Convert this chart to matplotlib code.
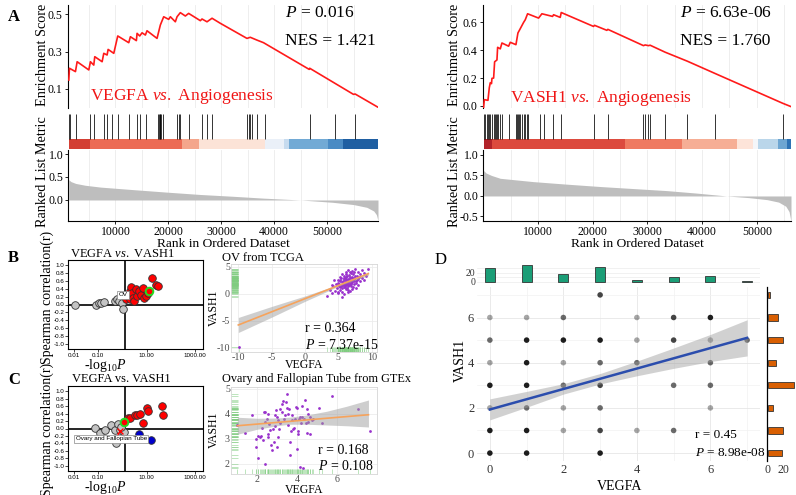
import numpy as np
import matplotlib.pyplot as plt

plt.rcParams['font.family'] = ['Liberation Serif', 'DejaVu Serif']
plt.rcParams['mathtext.fontset'] = 'custom'
plt.rcParams['mathtext.rm'] = 'Liberation Serif'
plt.rcParams['mathtext.it'] = 'Liberation Serif:italic'
plt.rcParams['axes.linewidth'] = 0.8
plt.rcParams['axes.unicode_minus'] = False
SANS = 'Liberation Sans'

# ---------------- A: GSEA VEGFA vs. Angiogenesis ----------------
es1_rank = [1195, 1320, 2450, 2770, 4970, 5280, 5910, 6100, 7490, 7800, 8430, 8620,
            9690, 10440, 12520, 12830, 13960, 14090, 14590, 15030, 15660, 15970, 17860,
            18490, 19120, 20060, 20380, 21320, 21640, 22260, 23210, 23830, 26040, 26360,
            27300, 28250, 29810, 34850, 35470, 36730, 37980, 46600, 46700, 54970, 55280, 59600]
es1_val = [0.148, 0.211, 0.193, 0.246, 0.202, 0.246, 0.228, 0.273, 0.246, 0.291, 0.282, 0.312,
           0.291, 0.384, 0.348, 0.380, 0.359, 0.398, 0.384, 0.401, 0.389, 0.412, 0.371,
           0.443, 0.487, 0.473, 0.487, 0.460, 0.487, 0.509, 0.491, 0.505, 0.466, 0.475,
           0.460, 0.479, 0.452, 0.371, 0.377, 0.362, 0.348, 0.205, 0.211, 0.071, 0.073, 0.002]
hits1 = [1195, 1384, 2642, 5157, 6038, 7799, 8428, 9371, 10440, 12516, 14088, 14717, 15849,
         17987, 18176, 18365, 18491, 18679, 18930, 21635, 21950, 22264, 23836, 26352, 27296,
         28239, 34843, 35157, 35472, 35786, 36730, 38302, 46667, 51384, 55283]
bar1_edges = [1190, 5283, 22585, 25717, 38302, 41755, 42698, 50245, 53075, 59600]
bar1_cols = ['#d33f34', '#ec6b54', '#f4a68c', '#fce3d7', '#eaf0f8', '#c6dbef',
             '#72aad5', '#4a8bc4', '#1f5fa2']
rk1_x = [1190, 1600, 2500, 4300, 7200, 12800, 19800, 26000, 32300, 38000, 45000, 51000,
         55000, 57500, 58800, 59300, 59600]
rk1_y = [0.44, 0.40, 0.36, 0.32, 0.28, 0.23, 0.17, 0.12, 0.08, 0.04, 0.0, -0.05,
         -0.10, -0.16, -0.24, -0.32, -0.45]

# ---------------- A: GSEA VASH1 vs. Angiogenesis ----------------
es2_rank = [55, 183, 852, 1096, 1279, 1500, 1583, 1887, 2070, 2496, 2618, 3105, 3409, 4627,
            4931, 5967, 6332, 6758, 7367, 7671, 8097, 10106, 10715, 12663, 12846, 14064,
            14247, 20152, 20335, 22588, 22770, 29285, 29589, 30198, 30502, 33242, 37321,
            42374, 54734, 56256]
es2_val = [-0.012, 0.045, 0.040, 0.131, 0.167, 0.160, 0.198, 0.200, 0.317, 0.330, 0.421,
           0.410, 0.452, 0.429, 0.457, 0.440, 0.524, 0.555, 0.600, 0.619, 0.662, 0.631,
           0.662, 0.643, 0.655, 0.636, 0.671, 0.571, 0.579, 0.543, 0.550, 0.433, 0.438,
           0.433, 0.436, 0.386, 0.321, 0.233, 0.019, -0.005]
hits2 = [183, 365, 670, 852, 1096, 1279, 1583, 1887, 2070, 2314, 2496, 2679, 3105, 3409,
         4627, 5967, 6149, 6332, 6454, 6758, 7062, 7367, 7671, 7976, 8158, 10411, 11020,
         12663, 14247, 20152, 22770, 29285, 29589, 30198, 30502, 33242, 37321, 42374, 54734]
bar2_edges = [55, 1589, 25936, 36292, 46338, 49370, 50283, 53936, 55470, 56256]
bar2_cols = ['#b2232a', '#dc4a3e', '#ef7a61', '#f6ae95', '#fde4d9', '#f4f6f9',
             '#bad6ea', '#6ea6d2', '#2e73b5']
rk2_x = [55, 500, 1500, 3100, 9100, 15000, 21400, 27500, 33600, 39000, 44500, 48500,
         51900, 54000, 55300, 55900, 56256]
rk2_y = [0.62, 0.56, 0.50, 0.43, 0.35, 0.29, 0.23, 0.18, 0.13, 0.07, 0.0, -0.04,
         -0.09, -0.15, -0.25, -0.38, -0.62]
rank_ticks = [10000, 20000, 30000, 40000, 50000]

# ---------------- B / C left: -log10 P vs Spearman r ----------------
corr_ticks = [-1.0, -0.8, -0.6, -0.4, -0.2, 0.0, 0.2, 0.4, 0.6, 0.8, 1.0]
logp_ticks = [0.01, 0.1, 10, 1000]
logp_labels = ['0.01', '0.10', '10.00', '1000.00']

b_gray_p = [0.011, 0.085, 0.105, 0.138, 0.174, 0.48, 0.59, 0.72, 1.0, 1.05]
b_gray_r = [0.0, -0.02, 0.03, 0.04, 0.06, 0.08, 0.13, 0.08, 0.04, -0.11]
b_red_p = [1.45, 1.70, 2.0, 2.14, 2.29, 2.51, 2.88, 3.16, 3.72, 3.89, 5.01, 5.89, 6.92,
           8.13, 9.55, 11.2, 17.0, 25.7, 29.5]
b_red_r = [0.14, 0.21, 0.13, 0.35, 0.44, 0.29, 0.17, 0.08, 0.40, 0.21, 0.34, 0.25, 0.42,
           0.17, 0.21, 0.29, 0.68, 0.49, 0.47]
b_sel_p, b_sel_r = 12.9, 0.35

c_gray_p = [0.072, 0.117, 0.186, 0.355, 0.48, 0.66, 0.78, 0.56, 1.12, 0.89]
c_gray_r = [0.02, -0.11, -0.05, 0.10, -0.04, 0.13, -0.03, -0.38, -0.10, 0.05]
c_red_p = [1.70, 2.09, 3.47, 3.89, 5.37, 7.41, 10.0, 11.2, 43.7, 45.7]
c_red_r = [0.27, 0.29, 0.35, 0.37, 0.39, 0.16, 0.55, 0.47, 0.61, 0.37]
c_blue_p = [5.01, 15.1]
c_blue_r = [-0.15, -0.31]
c_sel_p, c_sel_r = 1.15, 0.17
c_x_p, c_x_r = 0.78, -0.08

# ---------------- B right: OV from TCGA ----------------
tcga_vegfa = [6.0, 6.3, 5.7, 6.8, 5.2, 7.1, 6.5, 5.9, 6.2, 7.4, 4.8, 5.5, 6.9, 7.8, 6.1, 5.3,
              6.6, 7.2, 4.5, 8.2, 5.8, 6.4, 7.0, 5.1, 6.7, 7.6, 5.6, 6.2, 8.0, 4.9, 6.0, 6.9,
              5.4, 7.3, 6.5, 5.0, 7.9, 6.3, 5.7, 7.5, 4.2, 6.8, 5.9, 8.5, 6.1, 7.1, 5.2, 6.6,
              7.7, 4.6, 6.4, 5.5, 7.2, 6.0, 8.8, 5.8, 6.9, 3.8, 7.4, 6.2, 5.3, 6.7, 7.9, 5.0,
              6.5, 7.0, 5.6, 8.3, 6.1, 4.4, 6.3, 7.6, 5.9, 6.8, 5.4, 7.3, 6.0, 8.6, 4.9, 6.6,
              7.1, 5.7, 6.4, 7.8, 5.2, 6.9, 6.2, 9.2, 5.5, 7.4, 6.7, 4.1, 6.0, 7.0, 5.8, 8.1,
              6.5, 5.1, 7.2, 6.3, 3.3, 9.5, 4.0, 8.9, 5.6, 7.5, -9.97]
tcga_vash1 = [2.0, 2.4, 1.6, 2.9, 1.2, 2.2, 1.5, 2.7, 3.1, 3.0, 1.0, 2.2, 1.8, 3.4, 0.9, 2.6,
              3.5, 1.3, 0.6, 3.6, 3.3, 2.1, 2.6, 1.8, 0.6, 2.4, 0.4, 4.0, 2.8, 2.1, 1.3, 3.8,
              2.9, 1.9, 2.8, 0.2, 4.1, 1.1, 2.4, 3.3, 1.4, 2.3, 1.9, 3.0, 3.6, 0.9, 3.1, 1.7,
              2.0, 1.9, 4.4, 1.0, 3.6, 2.5, 3.9, 0.0, 2.0, 0.8, 2.7, 1.6, 0.7, 3.1, 1.6, 2.5,
              0.3, 4.3, 3.6, 2.3, 2.2, 2.6, 3.3, 1.1, 1.2, 4.0, 1.5, 2.4, 3.0, 4.5, 0.4, 2.5,
              3.1, 2.0, 0.8, 2.6, 2.3, 1.4, 2.8, 3.4, 1.7, 4.0, 1.9, 0.2, 1.7, 2.9, 2.9, 3.2,
              2.2, 1.4, 2.5, 1.8, -0.4, 4.7, 1.6, 2.5, -0.6, 4.7, -9.97]
tcga_fit_x = [-10.0, 9.5]
tcga_fit_y = [-5.8, 3.75]
tcga_ci_x = [-10.0, -5.0, 0.0, 5.0, 6.0, 9.5]
tcga_ci_lo = [-7.2, -4.35, -1.4, 1.38, 1.86, 3.4]
tcga_ci_hi = [-4.4, -2.35, -0.4, 1.72, 2.12, 4.1]

# ---------------- C right: Ovary and Fallopian Tube from GTEx ----------------
gtex_vegfa = [0.96, 1.38, 1.72, 1.92, 1.94, 2.05, 2.19, 2.25, 2.35, 2.39, 2.39, 2.47, 2.52,
              2.56, 2.59, 2.64, 2.69, 2.76, 2.81, 2.89, 2.89, 2.93, 2.98, 3.03, 3.06, 3.09,
              3.14, 3.14, 3.23, 3.26, 3.31, 3.36, 3.40, 3.43, 3.48, 3.48, 3.53, 3.56, 3.60,
              3.65, 3.70, 3.73, 3.76, 3.81, 3.90, 3.93, 3.98, 3.98, 4.03, 4.07, 4.10, 4.15,
              4.20, 4.24, 4.27, 4.32, 4.37, 4.40, 4.44, 4.49, 4.49, 4.54, 4.57, 4.65, 4.65,
              4.74, 4.82, 5.11, 5.24, 5.75, 7.09, 7.68, 2.39, 2.56, 2.98, 2.14, 2.05, 4.15,
              3.87, 2.30, 2.86, 3.65]
gtex_vash1 = [3.54, 3.25, 3.96, 2.67, 3.00, 3.13, 3.13, 3.44, 4.09, 3.69, 4.09, 3.81, 4.00,
              3.19, 3.59, 3.34, 2.75, 2.57, 3.41, 3.94, 3.50, 4.16, 3.88, 3.07, 3.75, 3.38,
              4.19, 3.63, 4.38, 4.06, 4.50, 3.81, 3.94, 4.46, 4.25, 4.81, 3.54, 4.00, 4.19,
              2.88, 3.31, 3.96, 3.75, 3.38, 3.81, 4.28, 4.25, 2.59, 3.19, 3.31, 3.78, 3.88,
              3.63, 4.31, 3.88, 1.82, 3.81, 4.56, 3.63, 3.25, 4.19, 3.66, 4.00, 3.88, 3.19,
              3.75, 3.81, 4.25, 3.63, 4.71, 4.19, 3.31, 2.00, 3.07, 2.69, 3.07, 2.25, 1.88,
              3.44, 2.94, 2.88, 2.34]
gtex_fit_x = [1.0, 7.6]
gtex_fit_y = [3.52, 3.96]
gtex_ci_x = [1.0, 2.0, 3.0, 3.6, 4.5, 5.5, 6.5, 7.6]
gtex_ci_lo = [3.18, 3.38, 3.52, 3.58, 3.58, 3.55, 3.52, 3.47]
gtex_ci_hi = [3.86, 3.82, 3.83, 3.86, 3.95, 4.10, 4.30, 4.55]

# ---------------- D ----------------
d_vegfa = [3, 0, 1, 2, 4, 5, 6, 0, 1, 2, 3, 4, 5, 6, 7, 0, 1, 2, 3, 4, 6, 0, 1, 2, 3, 5, 6,
           0, 1, 2, 3, 6, 0, 1, 2, 3, 4, 5, 0, 1, 3]
d_vash1 = [7, 6, 6, 6, 6, 6, 6, 5, 5, 5, 5, 5, 5, 5, 5, 4, 4, 4, 4, 4, 4, 3, 3, 3, 3, 3, 3,
           2, 2, 2, 2, 2, 1, 1, 1, 1, 1, 1, 0, 0, 0]
d_n = [3, 1, 1, 2, 1, 3, 5, 2, 5, 5, 5, 1, 3, 1, 2, 1, 5, 1, 2, 2, 2, 5, 5, 2, 3, 2, 2,
       1, 2, 1, 2, 1, 5, 5, 1, 3, 1, 2, 5, 5, 5]
levels = [0, 1, 2, 3, 4, 5, 6, 7]
vegfa_counts = [30, 36, 17, 32, 4, 10, 12, 2]
vash1_counts = [18, 20, 7, 34, 11, 20, 13, 3]
d_fit_x = [0, 7]
d_fit_y = [1.93, 5.10]
d_ci_x = [0, 1, 2, 3, 4, 5, 6, 7]
d_ci_lo = [1.47, 2.03, 2.61, 3.06, 3.42, 3.75, 4.05, 4.30]
d_ci_hi = [2.40, 2.73, 3.07, 3.52, 4.07, 4.65, 5.25, 5.90]

W, H = 796, 495
fig = plt.figure(figsize=(W / 100, H / 100), dpi=100)


def add_ax(l, t, r, b):
    return fig.add_axes([l / W, 1 - b / H, (r - l) / W, (b - t) / H])


def ftext(x, y, s, **kw):
    kw.setdefault('va', 'center')
    fig.text(x / W, 1 - y / H, s, **kw)


def gsea(x0, x1, xlim, es_r, es_v, es_lim, es_ticks, hits, edges, cols,
         rk_x, rk_y, rk_lim, rk_ticks):
    es = add_ax(x0, 5, x1, 108)
    es.plot(es_r, es_v, color='#ff1a1a', lw=1.2, zorder=3)
    es.set_xlim(xlim)
    es.set_ylim(es_lim)
    es.set_xticks(rank_ticks)
    es.set_xticks([5000, 15000, 25000, 35000, 45000, 55000], minor=True)
    es.grid(axis='x', which='both', color='#ebebeb', lw=0.6)
    es.tick_params(axis='x', which='both', length=0, labelbottom=False)
    es.set_yticks(es_ticks)
    es.set_yticklabels(['%.1f' % v for v in es_ticks])
    es.tick_params(axis='y', labelsize=8.5, length=2.5, width=0.6, pad=1.5)
    for s in ['top', 'right', 'bottom']:
        es.spines[s].set_visible(False)

    ha = add_ax(x0, 108, x1, 149)
    ha.set_xlim(xlim)
    ha.set_ylim(0, 41)
    ha.vlines(hits, 10, 35, color='black', lw=0.7, alpha=0.8)
    for i, c in enumerate(cols):
        ha.broken_barh([(edges[i], edges[i + 1] - edges[i])], (0, 10), facecolors=c)
    ha.axis('off')

    rk = add_ax(x0, 150, x1, 221)
    rk.fill_between(rk_x, 0, rk_y, color='#bebebe', lw=0)
    rk.set_xlim(xlim)
    rk.set_ylim(rk_lim)
    rk.set_xticks(rank_ticks)
    rk.set_xticks([5000, 15000, 25000, 35000, 45000, 55000], minor=True)
    rk.grid(axis='x', which='both', color='#ebebeb', lw=0.6)
    rk.set_axisbelow(True)
    rk.set_yticks(rk_ticks)
    rk.set_yticklabels(['%.1f' % v for v in rk_ticks])
    rk.tick_params(labelsize=8.5, length=2.5, width=0.6, pad=0.8)
    rk.tick_params(axis='x', which='minor', length=0)
    for s in ['top', 'right']:
        rk.spines[s].set_visible(False)


gsea(68.3, 378, (1100, 59600), es1_rank, es1_val, (-0.002, 0.55), [0.1, 0.3, 0.5],
     hits1, bar1_edges, bar1_cols, rk1_x, rk1_y, (-0.457, 1.087), [0.0, 0.5, 1.0])
gsea(483.3, 791, (0, 56256), es2_rank, es2_val, (-0.015, 0.725), [0.0, 0.2, 0.4, 0.6],
     hits2, bar2_edges, bar2_cols, rk2_x, rk2_y, (-0.61, 1.12), [-0.5, 0.0, 0.5, 1.0])

for xl, xc in [(42, 223), (454, 637)]:
    ftext(xl, 55, 'Enrichment Score', rotation=90, ha='center', fontsize=10.3)
    ftext(xl, 172, 'Ranked List Metric', rotation=90, ha='center', fontsize=10.3)
    ftext(xc, 244.5, 'Rank in Ordered Dataset', ha='center', fontsize=9.6)

ftext(285, 13, '$P$ = 0.016', fontsize=12.5)
ftext(285, 41, 'NES = 1.421', fontsize=12.5)
ftext(90, 96, 'VEGFA $vs.$ Angiogenesis', fontsize=12.5, color='#f01515')
ftext(680, 13, '$P$ = 6.63e-06', fontsize=12.5)
ftext(680, 41, 'NES = 1.760', fontsize=12.5)
ftext(510, 99, 'VASH1 $vs.$ Angiogenesis', fontsize=12.5, color='#f01515')

ftext(8, 17, 'A', fontsize=12, fontweight='bold')
ftext(8, 258, 'B', fontsize=12, fontweight='bold')
ftext(8, 380, 'C', fontsize=12, fontweight='bold')
ftext(435, 260, 'D', fontsize=12)


# ---------------- B / C left ----------------
def corr_panel(top, bottom, gp, gr, rp, rr, sel_p, sel_r):
    ax = add_ax(68.3, top, 203, bottom)
    ax.set_xscale('log')
    ax.set_xlim(10 ** -2.23, 10 ** 3.33)
    ax.set_ylim(-1.14, 1.14)
    ax.axvline(1.301, color='black', lw=1.2, zorder=1)
    ax.axhline(0, color='black', lw=1.2, zorder=1)
    ax.scatter(gp, gr, s=30, c='#c4c4c4', edgecolors='#333333', linewidths=0.6, zorder=3)
    ax.scatter(rp, rr, s=30, c='#ff0000', edgecolors='#333333', linewidths=0.6, zorder=3)
    ax.scatter([sel_p], [sel_r], s=30, c='#ff0000', edgecolors='#22dd22', linewidths=1.4,
               zorder=5)
    ax.set_xticks(logp_ticks)
    ax.set_xticklabels(logp_labels)
    ax.xaxis.set_minor_locator(plt.NullLocator())
    ax.set_yticks(corr_ticks)
    ax.set_yticklabels(['%.1f' % v for v in corr_ticks])
    ax.tick_params(labelsize=4.5, length=2, width=0.5, pad=0.8)
    for lab in ax.get_xticklabels() + ax.get_yticklabels():
        lab.set_family(SANS)
    return ax


bl = corr_panel(260, 349, b_gray_p, b_gray_r, b_red_p, b_red_r, b_sel_p, b_sel_r)
bl.text(1.07, 0.25, 'OV', fontsize=4.5, family=SANS, ha='center', va='center', zorder=6,
        bbox=dict(boxstyle='square,pad=0.25', fc='white', ec='#888888', lw=0.5))

cl = corr_panel(386, 471, c_gray_p, c_gray_r, c_red_p, c_red_r, c_sel_p, c_sel_r)
cl.scatter(c_blue_p, c_blue_r, s=30, c='#0000cc', edgecolors='#333333', linewidths=0.6,
           zorder=3)
cl.scatter([c_x_p], [c_x_r], s=18, marker='x', c='red', linewidths=1.0, zorder=6)
cl.plot([c_x_p, 0.62], [c_x_r, -0.22], color='red', lw=0.7, zorder=6)
cl.text(0.35, -0.28, 'Ovary and Fallopian Tube', fontsize=4.5, family=SANS, ha='center',
        va='center', zorder=7,
        bbox=dict(boxstyle='square,pad=0.25', fc='white', ec='#888888', lw=0.5))

ftext(70, 254, 'VEGFA $vs.$ VASH1', fontsize=9)
ftext(72, 379.5, 'VEGFA vs. VASH1', fontsize=9)
ftext(47, 297, 'Spearman correlation(r)', rotation=90, ha='center', fontsize=10)
ftext(47, 429, 'Spearman correlation(r)', rotation=90, ha='center', fontsize=10)
ftext(105, 365, '-log$_{10}$$P$', ha='center', fontsize=10)
ftext(105, 487, '-log$_{10}$$P$', ha='center', fontsize=10)


# ---------------- B / C right ----------------
def expr_panel(top, bottom, xlim, ylim, xticks, yticks, px, py, fx, fy, cx, clo, chi):
    ax = add_ax(231, top, 377, bottom)
    ax.set_xlim(xlim)
    ax.set_ylim(ylim)
    ax.set_xticks(xticks)
    ax.set_yticks(yticks)
    ax.grid(color='#ececec', lw=0.6)
    ax.set_axisbelow(True)
    for s in ax.spines.values():
        s.set_color('#d6d6d6')
        s.set_linewidth(0.6)
    ax.tick_params(labelsize=7.2, length=0, pad=0.8, labelcolor='#4d4d4d')
    ax.vlines(px, 0, 0.055, transform=ax.get_xaxis_transform(), color='#7fcc7f',
              lw=0.6, alpha=0.6)
    ax.hlines(py, 0, 0.05, transform=ax.get_yaxis_transform(), color='#7fcc7f',
              lw=0.6, alpha=0.6)
    ax.scatter(px, py, s=4, c='#9932cc', lw=0, zorder=3)
    ax.fill_between(cx, clo, chi, color='#9e9e9e', alpha=0.5, lw=0, zorder=4)
    ax.plot(fx, fy, color='#f6a35c', lw=1.2, zorder=5)
    return ax


expr_panel(264, 352, (-11.1, 10.8), (-10.83, 5.55), [-10, -5, 0, 5, 10], [-10, -5, 0, 5],
           tcga_vegfa, tcga_vash1, tcga_fit_x, tcga_fit_y, tcga_ci_x, tcga_ci_lo, tcga_ci_hi)
expr_panel(387, 474, (0.68, 8.03), (1.59, 5.07), [2, 4, 6], [2, 3, 4, 5],
           gtex_vegfa, gtex_vash1, gtex_fit_x, gtex_fit_y, gtex_ci_x, gtex_ci_lo, gtex_ci_hi)

ftext(222, 258, 'OV from TCGA', fontsize=9)
ftext(222, 379, 'Ovary and Fallopian Tube from GTEx', fontsize=8.8)
ftext(214, 308, 'VASH1', rotation=90, ha='center', fontsize=8.5)
ftext(214, 430, 'VASH1', rotation=90, ha='center', fontsize=8.5)
ftext(304, 365.5, 'VEGFA', ha='center', fontsize=8.5)
ftext(304, 490, 'VEGFA', ha='center', fontsize=8.5)
ftext(305, 328, 'r = 0.364', fontsize=10)
ftext(305, 345, '$P$ = 7.37e-15', fontsize=10)
ftext(318, 451, 'r = 0.168', fontsize=10)
ftext(318, 466, '$P$ = 0.108', fontsize=10)

# ---------------- D ----------------
dm = add_ax(477, 287, 760, 461)
dm.set_xlim(-0.35, 7.35)
dm.set_ylim(-0.35, 7.35)
dm.set_xticks([0, 2, 4, 6])
dm.set_yticks([0, 2, 4, 6])
dm.set_xticks([1, 3, 5, 7], minor=True)
dm.set_yticks([1, 3, 5, 7], minor=True)
dm.grid(which='major', color='#e6e6e6', lw=0.6)
dm.grid(which='minor', color='#f2f2f2', lw=0.5)
dm.set_axisbelow(True)
for s in dm.spines.values():
    s.set_visible(False)
dm.tick_params(which='both', length=0, labelsize=9, labelcolor='#333333', pad=2)
pt_cols = [(0, 0, 0, 1 - 0.65 ** n) for n in d_n]
dm.scatter(d_vegfa, d_vash1, s=16, c=pt_cols, lw=0, zorder=3)
dm.fill_between(d_ci_x, d_ci_lo, d_ci_hi, color='#9a9a9a', alpha=0.45, lw=0, zorder=4)
dm.plot(d_fit_x, d_fit_y, color='#2b4dad', lw=1.8, zorder=5)

dt = add_ax(477, 265, 760, 283)
dt.bar(levels, vegfa_counts, width=0.27, color='#1b9e77', edgecolor='#333333', lw=0.6,
       zorder=3)
dt.set_xlim(-0.35, 7.35)
dt.set_ylim(-2.9, 37)
dt.set_yticks([0, 20])
dt.set_yticks([10, 30], minor=True)
dt.grid(axis='y', which='both', color='#ebebeb', lw=0.5)
dt.set_xticks([])
for s in dt.spines.values():
    s.set_visible(False)
dt.tick_params(axis='y', which='both', length=0, labelsize=7, pad=1, labelcolor='#333333')

dr = add_ax(767, 287, 795, 461)
dr.barh(levels, vash1_counts, height=0.27, color='#d95f02', edgecolor='#333333', lw=0.6,
        zorder=3)
dr.set_ylim(-0.35, 7.35)
dr.set_xlim(-0.9, 35)
dr.set_xticks([0, 20])
dr.set_yticks([])
for s in ['top', 'right', 'bottom']:
    dr.spines[s].set_visible(False)
dr.spines['left'].set_linewidth(0.9)
dr.tick_params(axis='x', length=0, labelsize=8.5, pad=2, labelcolor='#333333')

ftext(460, 360, 'VASH1', rotation=90, ha='center', fontsize=10)
ftext(620, 487, 'VEGFA', ha='center', fontsize=10)
ftext(695, 435, 'r = 0.45', fontsize=9.5)
ftext(695, 453, '$P$ = 8.98e-08', fontsize=9.5)

fig.savefig('out.png', dpi=100)
